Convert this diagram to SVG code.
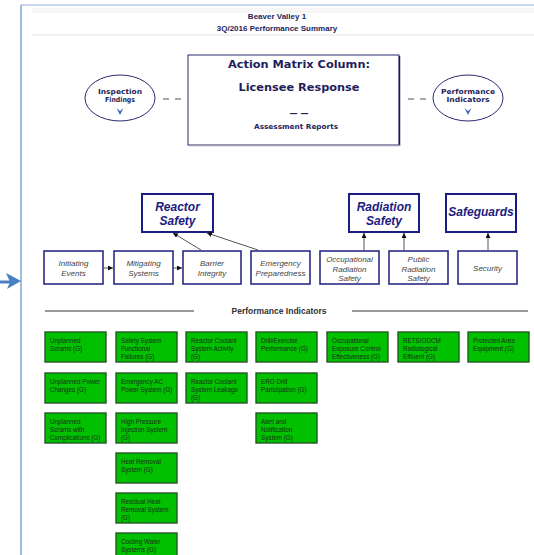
<svg xmlns="http://www.w3.org/2000/svg" width="534" height="555" viewBox="0 0 534 555">
<defs>
<style>
.hdr{font-family:"Liberation Sans",Arial,sans-serif;font-weight:bold;font-size:8px;fill:#1e1e5a;text-anchor:middle}
.am{font-family:"DejaVu Sans",Verdana,sans-serif;font-weight:bold;fill:#1e1e5a;text-anchor:middle}
.ell{fill:#fff;stroke:#2a2a70;stroke-width:1}
.ellt{font-family:"DejaVu Sans",Verdana,sans-serif;font-weight:bold;font-size:7px;fill:#1e1e5a;text-anchor:middle}
.cat{fill:#fff;stroke:#1c1c80;stroke-width:2}
.catt{font-family:"Liberation Sans",Arial,sans-serif;font-weight:bold;font-style:italic;font-size:12px;fill:#1c1c80;text-anchor:middle}
.cor{fill:#fff;stroke:#1c1c80;stroke-width:1.5}
.cort{font-family:"Liberation Sans",Arial,sans-serif;font-style:italic;font-size:8px;fill:#444;text-anchor:middle}
.pi{fill:#00c000;stroke:#1d3d1d;stroke-width:1}
.pio{fill:none;stroke:#c8c8c8;stroke-width:1}
.pit{font-family:"Liberation Sans",Arial,sans-serif;font-size:6.3px;fill:#1a2e1a}
.conn{stroke:#555;stroke-width:1;fill:none}
.chev{fill:#3a6fc0}
</style>
<marker id="ah" viewBox="0 0 10 10" refX="10" refY="5" markerWidth="5" markerHeight="5" orient="auto">
<path d="M0,0 L10,5 L0,10 Z" fill="#111"/>
</marker>
</defs>
<rect x="0" y="0" width="534" height="555" fill="#fff"/>
<!-- page frame -->
<line x1="21" y1="5" x2="534" y2="5" stroke="#8fb0dc" stroke-width="1"/>
<line x1="21" y1="5" x2="21" y2="555" stroke="#5b8fd0" stroke-width="1.2"/>
<rect x="32" y="8" width="502" height="5" fill="#f6f6f6"/>
<line x1="32" y1="35" x2="534" y2="35" stroke="#e2e2e2" stroke-width="1"/>
<!-- blue pointer arrow -->
<g id="pointer">
<line x1="0" y1="282" x2="10" y2="282" stroke="#4a7fc1" stroke-width="3"/>
<path d="M6,273 L21,281 L7,289 L10,282 Z" fill="#4a7fc1"/>
</g>
<g id="header">
<text class="hdr" x="277" y="19">Beaver Valley 1</text>
<text class="hdr" x="277" y="31">3Q/2016 Performance Summary</text>
</g>
<g id="action-matrix">
<rect x="188" y="55" width="211" height="90" fill="#fff" stroke="#2a2a70" stroke-width="1"/>
<line x1="399.5" y1="56" x2="399.5" y2="146" stroke="#1a1a50" stroke-width="1.5"/>
<line x1="189" y1="145.5" x2="400" y2="145.5" stroke="#9a9ab0" stroke-width="1.5"/>
<text class="am" x="299" y="68" font-size="11" textLength="142" lengthAdjust="spacingAndGlyphs">Action Matrix Column:</text>
<text class="am" x="299" y="91" font-size="11" textLength="121" lengthAdjust="spacingAndGlyphs">Licensee Response</text>
<text class="am" x="299" y="116" font-size="8">— —</text>
<text class="am" x="296" y="129" font-size="7" textLength="84" lengthAdjust="spacingAndGlyphs">Assessment Reports</text>
</g>
<g id="inspection-findings">
<ellipse class="ell" cx="120" cy="98" rx="35" ry="23"/>
<text class="ellt" x="120" y="94" textLength="44" lengthAdjust="spacingAndGlyphs">Inspection</text>
<text class="ellt" x="120" y="101.5" textLength="30" lengthAdjust="spacingAndGlyphs">Findings</text>
<path class="chev" d="M116.5,108 L120,115 L123.5,108 L120,111 Z"/>
</g>
<g id="performance-indicators-ellipse">
<ellipse class="ell" cx="468" cy="98" rx="35" ry="23"/>
<text class="ellt" x="468" y="94" textLength="54" lengthAdjust="spacingAndGlyphs">Performance</text>
<text class="ellt" x="468" y="101.5" textLength="43" lengthAdjust="spacingAndGlyphs">Indicators</text>
<path class="chev" d="M464.5,108 L468,115 L471.5,108 L468,111 Z"/>
</g>
<g id="dashes">
<line x1="163" y1="99" x2="169" y2="99" stroke="#555" stroke-width="1"/>
<line x1="175" y1="99" x2="181" y2="99" stroke="#555" stroke-width="1"/>
<line x1="408" y1="99" x2="414" y2="99" stroke="#555" stroke-width="1"/>
<line x1="420" y1="99" x2="426" y2="99" stroke="#555" stroke-width="1"/>
</g>
<!-- cornerstones -->
<g id="reactor-safety">
<rect class="cat" x="142" y="194" width="71" height="38"/>
<text class="catt" x="177.5" y="211">Reactor</text>
<text class="catt" x="177.5" y="225">Safety</text>
</g>
<g id="radiation-safety">
<rect class="cat" x="349" y="194" width="70" height="38"/>
<text class="catt" x="384" y="211">Radiation</text>
<text class="catt" x="384" y="225">Safety</text>
</g>
<g id="safeguards">
<rect class="cat" x="446" y="194" width="70" height="38"/>
<text class="catt" x="481" y="216">Safeguards</text>
</g>
<g id="initiating-events">
<rect class="cor" x="44" y="251" width="59" height="33"/>
<text class="cort" x="73.5" y="266">Initiating</text>
<text class="cort" x="73.5" y="276">Events</text>
</g>
<g id="mitigating-systems">
<rect class="cor" x="114" y="251" width="59" height="33"/>
<text class="cort" x="143.5" y="266">Mitigating</text>
<text class="cort" x="143.5" y="276">Systems</text>
</g>
<g id="barrier-integrity">
<rect class="cor" x="183" y="251" width="58" height="33"/>
<text class="cort" x="212" y="266">Barrier</text>
<text class="cort" x="212" y="276">Integrity</text>
</g>
<g id="emergency-preparedness">
<rect class="cor" x="251" y="251" width="59" height="33"/>
<text class="cort" x="280.5" y="266">Emergency</text>
<text class="cort" x="280.5" y="276">Preparedness</text>
</g>
<g id="occupational-radiation-safety">
<rect class="cor" x="320" y="251" width="59" height="33"/>
<text class="cort" x="349.5" y="262">Occupational</text>
<text class="cort" x="349.5" y="271.5">Radiation</text>
<text class="cort" x="349.5" y="281">Safety</text>
</g>
<g id="public-radiation-safety">
<rect class="cor" x="389" y="251" width="59" height="33"/>
<text class="cort" x="418.5" y="262">Public</text>
<text class="cort" x="418.5" y="271.5">Radiation</text>
<text class="cort" x="418.5" y="281">Safety</text>
</g>
<g id="security">
<rect class="cor" x="458" y="251" width="59" height="33"/>
<text class="cort" x="487.5" y="271">Security</text>
</g>
<g id="connectors">
<line class="conn" x1="103" y1="268" x2="113" y2="268" marker-end="url(#ah)"/>
<line class="conn" x1="173" y1="268" x2="182" y2="268" marker-end="url(#ah)"/>
<line class="conn" x1="201" y1="250" x2="173" y2="233" marker-end="url(#ah)"/>
<line class="conn" x1="258" y1="250" x2="207" y2="233" marker-end="url(#ah)"/>
<line class="conn" x1="364" y1="250" x2="364" y2="233" marker-end="url(#ah)"/>
<line class="conn" x1="404" y1="250" x2="404" y2="233" marker-end="url(#ah)"/>
<line class="conn" x1="488" y1="250" x2="488" y2="233" marker-end="url(#ah)"/>
</g>
<!-- Performance indicators -->
<g id="pi-heading">
<line x1="45" y1="311" x2="194" y2="311" stroke="#333" stroke-width="1"/>
<line x1="352" y1="311" x2="528" y2="311" stroke="#333" stroke-width="1"/>
<text x="279" y="314" font-family="Liberation Sans, Arial, sans-serif" font-weight="bold" font-size="8.5" fill="#333" text-anchor="middle">Performance Indicators</text>
</g>
<g id="pi-unplanned-scrams"><rect class="pio" x="44.5" y="331.5" width="62" height="31"/><rect class="pi" x="45" y="332" width="61" height="30"/><text class="pit" x="50" y="343">Unplanned</text><text class="pit" x="50" y="351">Scrams (G)</text></g>
<g id="pi-unplanned-power-changes"><rect class="pio" x="44.5" y="372.5" width="62" height="31"/><rect class="pi" x="45" y="373" width="61" height="30"/><text class="pit" x="50" y="384">Unplanned Power</text><text class="pit" x="50" y="392">Changes (G)</text></g>
<g id="pi-unplanned-scrams-complications"><rect class="pio" x="44.5" y="412.5" width="62" height="31"/><rect class="pi" x="45" y="413" width="61" height="30"/><text class="pit" x="50" y="424">Unplanned</text><text class="pit" x="50" y="432">Scrams with</text><text class="pit" x="50" y="440">Complications (G)</text></g>
<g id="pi-ssff"><rect class="pio" x="115.5" y="331.5" width="62" height="31"/><rect class="pi" x="116" y="332" width="61" height="30"/><text class="pit" x="121" y="343">Safety System</text><text class="pit" x="121" y="351">Functional</text><text class="pit" x="121" y="359">Failures (G)</text></g>
<g id="pi-eac"><rect class="pio" x="115.5" y="372.5" width="62" height="31"/><rect class="pi" x="116" y="373" width="61" height="30"/><text class="pit" x="121" y="384">Emergency AC</text><text class="pit" x="121" y="392">Power System (G)</text></g>
<g id="pi-hpi"><rect class="pio" x="115.5" y="412.5" width="62" height="31"/><rect class="pi" x="116" y="413" width="61" height="30"/><text class="pit" x="121" y="424">High Pressure</text><text class="pit" x="121" y="432">Injection System</text><text class="pit" x="121" y="440">(G)</text></g>
<g id="pi-hrs"><rect class="pio" x="115.5" y="452.5" width="62" height="31"/><rect class="pi" x="116" y="453" width="61" height="30"/><text class="pit" x="121" y="464">Heat Removal</text><text class="pit" x="121" y="472">System (G)</text></g>
<g id="pi-rhr"><rect class="pio" x="115.5" y="492.5" width="62" height="31"/><rect class="pi" x="116" y="493" width="61" height="30"/><text class="pit" x="121" y="504">Residual Heat</text><text class="pit" x="121" y="512">Removal System</text><text class="pit" x="121" y="520">(G)</text></g>
<g id="pi-cws"><rect class="pio" x="115.5" y="532.5" width="62" height="31"/><rect class="pi" x="116" y="533" width="61" height="30"/><text class="pit" x="121" y="544">Cooling Water</text><text class="pit" x="121" y="552">Systems (G)</text></g>
<g id="pi-rcs-activity"><rect class="pio" x="185.5" y="331.5" width="62" height="31"/><rect class="pi" x="186" y="332" width="61" height="30"/><text class="pit" x="191" y="343">Reactor Coolant</text><text class="pit" x="191" y="351">System Activity</text><text class="pit" x="191" y="359">(G)</text></g>
<g id="pi-rcs-leakage"><rect class="pio" x="185.5" y="372.5" width="62" height="31"/><rect class="pi" x="186" y="373" width="61" height="30"/><text class="pit" x="191" y="384">Reactor Coolant</text><text class="pit" x="191" y="392">System Leakage</text><text class="pit" x="191" y="400">(G)</text></g>
<g id="pi-drill"><rect class="pio" x="255.5" y="331.5" width="62" height="31"/><rect class="pi" x="256" y="332" width="61" height="30"/><text class="pit" x="261" y="343">Drill/Exercise</text><text class="pit" x="261" y="351">Performance (G)</text></g>
<g id="pi-ero"><rect class="pio" x="255.5" y="372.5" width="62" height="31"/><rect class="pi" x="256" y="373" width="61" height="30"/><text class="pit" x="261" y="384">ERO Drill</text><text class="pit" x="261" y="392">Participation (G)</text></g>
<g id="pi-ans"><rect class="pio" x="255.5" y="412.5" width="62" height="31"/><rect class="pi" x="256" y="413" width="61" height="30"/><text class="pit" x="261" y="424">Alert and</text><text class="pit" x="261" y="432">Notification</text><text class="pit" x="261" y="440">System (G)</text></g>
<g id="pi-occ"><rect class="pio" x="326.5" y="331.5" width="62" height="31"/><rect class="pi" x="327" y="332" width="61" height="30"/><text class="pit" x="332" y="343">Occupational</text><text class="pit" x="332" y="351">Exposure Control</text><text class="pit" x="332" y="359">Effectiveness (G)</text></g>
<g id="pi-rets"><rect class="pio" x="397.5" y="331.5" width="62" height="31"/><rect class="pi" x="398" y="332" width="61" height="30"/><text class="pit" x="403" y="343">RETS/ODCM</text><text class="pit" x="403" y="351">Radiological</text><text class="pit" x="403" y="359">Effluent (G)</text></g>
<g id="pi-pa"><rect class="pio" x="467.5" y="331.5" width="62" height="31"/><rect class="pi" x="468" y="332" width="61" height="30"/><text class="pit" x="473" y="343">Protected Area</text><text class="pit" x="473" y="351">Equipment (G)</text></g>
</svg>
